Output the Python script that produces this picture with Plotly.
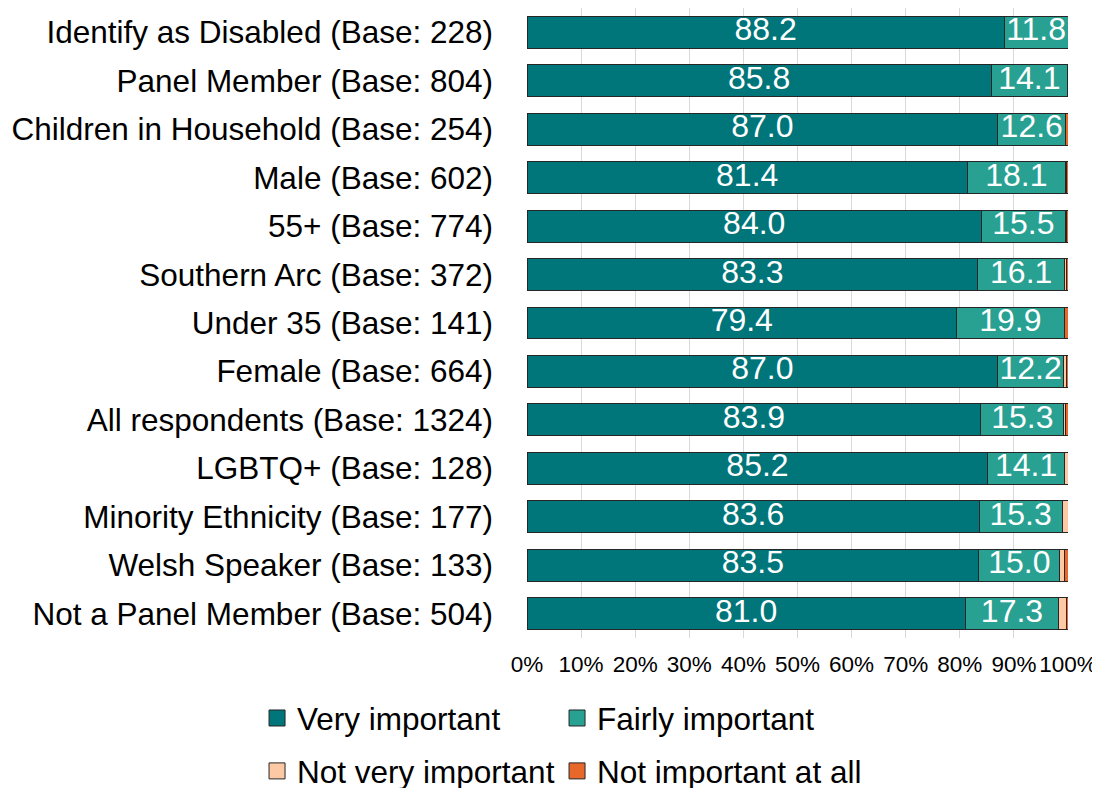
import plotly.graph_objects as go

categories = [
    "Identify as Disabled (Base: 228)",
    "Panel Member (Base: 804)",
    "Children in Household (Base: 254)",
    "Male (Base: 602)",
    "55+ (Base: 774)",
    "Southern Arc (Base: 372)",
    "Under 35 (Base: 141)",
    "Female (Base: 664)",
    "All respondents (Base: 1324)",
    "LGBTQ+ (Base: 128)",
    "Minority Ethnicity (Base: 177)",
    "Welsh Speaker (Base: 133)",
    "Not a Panel Member (Base: 504)",
]
very_important = [88.2, 85.8, 87.0, 81.4, 84.0, 83.3, 79.4, 87.0, 83.9, 85.2, 83.6, 83.5, 81.0]
fairly_important = [11.8, 14.1, 12.6, 18.1, 15.5, 16.1, 19.9, 12.2, 15.3, 14.1, 15.3, 15.0, 17.3]
not_very_important = [0.0, 0.1, 0.0, 0.3, 0.3, 0.4, 0.0, 0.5, 0.4, 0.7, 1.1, 0.8, 1.5]
not_important_at_all = [0.0, 0.0, 0.4, 0.2, 0.2, 0.2, 0.7, 0.3, 0.4, 0.0, 0.0, 0.7, 0.2]
x_ticks = [0, 10, 20, 30, 40, 50, 60, 70, 80, 90, 100]
x_tick_labels = [f"{t}%" for t in x_ticks]

FONT = "Liberation Sans"
OUTLINE = "#262626"
series = [
    ("Very important", very_important, "#00757a", "legend"),
    ("Fairly important", fairly_important, "#28a192", "legend2"),
    ("Not very important", not_very_important, "#fdc9a4", "legend3"),
    ("Not important at all", not_important_at_all, "#e8682b", "legend4"),
]

fig = go.Figure()
for name, vals, color, leg in series:
    fig.add_trace(go.Bar(
        y=categories, x=vals, name=name, orientation="h",
        marker=dict(color=color, line=dict(color=OUTLINE, width=1)),
        showlegend=False,
        hoverinfo="x+name",
    ))

# data labels centred in the two main segments (positions derived from the data)
label_x = [v / 2 for v in very_important] + [v + f / 2 for v, f in zip(very_important, fairly_important)]
label_y = categories + categories
label_t = [f"{v:.1f}" for v in very_important] + [f"{f:.1f}" for f in fairly_important]
fig.add_trace(go.Scatter(
    x=label_x, y=label_y, text=label_t, mode="text",
    textposition="middle center",
    textfont=dict(color="white", size=32, family=FONT),
    showlegend=False, hoverinfo="skip",
))

# legend-only entries with larger square swatches
for name, vals, color, leg in series:
    fig.add_trace(go.Scatter(
        x=[None], y=[None], mode="markers", name=name, legend=leg,
        marker=dict(symbol="square", size=16, color=color, line=dict(color=OUTLINE, width=1)),
        showlegend=True, hoverinfo="skip",
    ))

leg_common = dict(
    orientation="h", xref="paper", yref="paper",
    xanchor="left", yanchor="middle",
    font=dict(size=31.5, family=FONT),
    itemwidth=30,
    bgcolor="rgba(0,0,0,0)",
)
col1, col2 = -0.499, -0.499 + 300 / 541
row1, row2 = -0.127, -0.211
fig.update_layout(
    width=1100, height=788,
    margin=dict(l=519, r=40, t=0, b=158, autoexpand=False),
    paper_bgcolor="white", plot_bgcolor="white",
    font=dict(family=FONT, color="#000000"),
    barmode="stack",
    bargap=0.34,
    legend=dict(x=col1, y=row1, **leg_common),
    legend2=dict(x=col2, y=row1, **leg_common),
    legend3=dict(x=col1, y=row2, **leg_common),
    legend4=dict(x=col2, y=row2, **leg_common),
    showlegend=True,
)
fig.update_xaxes(
    range=[0, 100], tickvals=x_ticks, ticktext=x_tick_labels,
    showgrid=True, gridcolor="#d9d9d9", gridwidth=1,
    zeroline=False, showline=False, ticks="",
    tickfont=dict(size=22.5, family=FONT),
    ticklabelstandoff=10,
    automargin=False,
    fixedrange=True,
)
fig.update_yaxes(
    type="category", range=[len(categories) - 0.5, -0.5],
    showgrid=False, ticks="",
    tickfont=dict(size=31.5, family=FONT),
    ticklabelstandoff=33,
    automargin=False,
)

fig.write_html("out.html")
